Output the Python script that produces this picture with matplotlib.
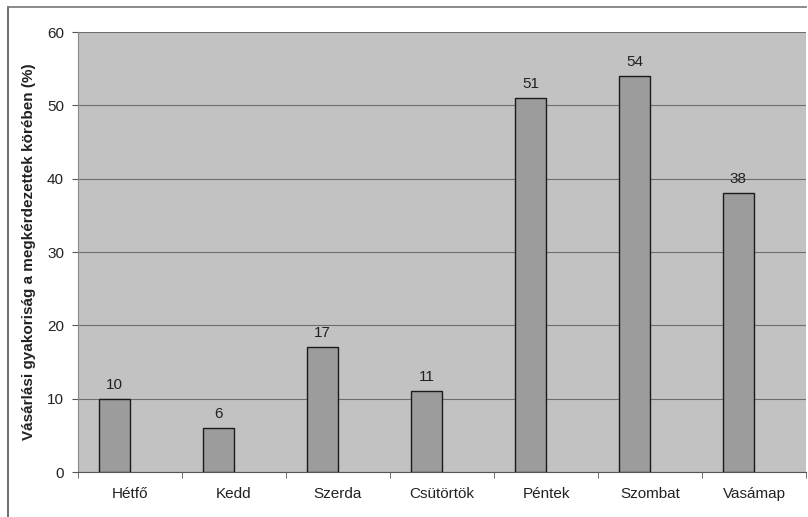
import numpy as np
import matplotlib
matplotlib.use("Agg")
import matplotlib.pyplot as plt
from matplotlib.lines import Line2D

FS = 11
plt.rcParams['font.family'] = ['Liberation Sans', 'DejaVu Sans']

# data
days = ["Hétfő", "Kedd", "Szerda", "Csütörtök", "Péntek", "Szombat", "Vasámap"]
values = [10, 6, 17, 11, 51, 54, 38]
yticks = [0, 10, 20, 30, 40, 50, 60]
ylabel = "Vásárlási gyakoriság a megkérdezettek körében (%)"

fig = plt.figure(figsize=(8.08, 5.17), dpi=100)
ax = fig.add_axes([78/808, 1 - 472/517, 728/808, 440/517])
ax.set_facecolor("#c2c2c2")

x = np.arange(len(days))
bw = 0.3
off = -0.15
bars = ax.bar(x + off, values, width=bw, color="#9c9c9c", edgecolor="#1a1a1a", linewidth=1.0, zorder=3)
for xi, v in zip(x, values):
    ax.annotate(str(v), (xi + off, v), xytext=(0, 5), textcoords="offset points",
                ha="center", va="bottom", fontsize=FS, color="#222222")

ax.set_xlim(-0.5, len(days) - 0.5)
ax.set_ylim(0, 60)
ax.set_yticks(yticks)
ax.set_yticklabels([str(t) for t in yticks], fontsize=FS, color="#222222")
ax.yaxis.grid(True, color="#6e6e6e", linewidth=0.8, zorder=1)
ax.set_axisbelow(True)

# category labels at centres, ticks at boundaries
ax.set_xticks(x)
ax.set_xticklabels(days, fontsize=FS, color="#222222")
ax.set_xticks(np.arange(len(days) + 1) - 0.5, minor=True)
ax.tick_params(axis="x", which="major", length=0, pad=11)
ax.tick_params(axis="x", which="minor", length=4, color="#555555")
ax.tick_params(axis="y", length=4, color="#555555", pad=6)

for s in ["top", "right"]:
    ax.spines[s].set_visible(False)
ax.spines["left"].set_color("#888888")
ax.spines["bottom"].set_color("#555555")

ax.set_ylabel(ylabel, fontsize=FS, fontweight="bold", color="#222222", labelpad=8)

# outer frame
fig.add_artist(Line2D([8/808, 8/808], [0, 1 - 7/517], transform=fig.transFigure, color="#555555", linewidth=1.2))
fig.add_artist(Line2D([8/808, 806/808], [1 - 7/517, 1 - 7/517], transform=fig.transFigure, color="#777777", linewidth=1.2))

plt.savefig("out.png", dpi=100)
